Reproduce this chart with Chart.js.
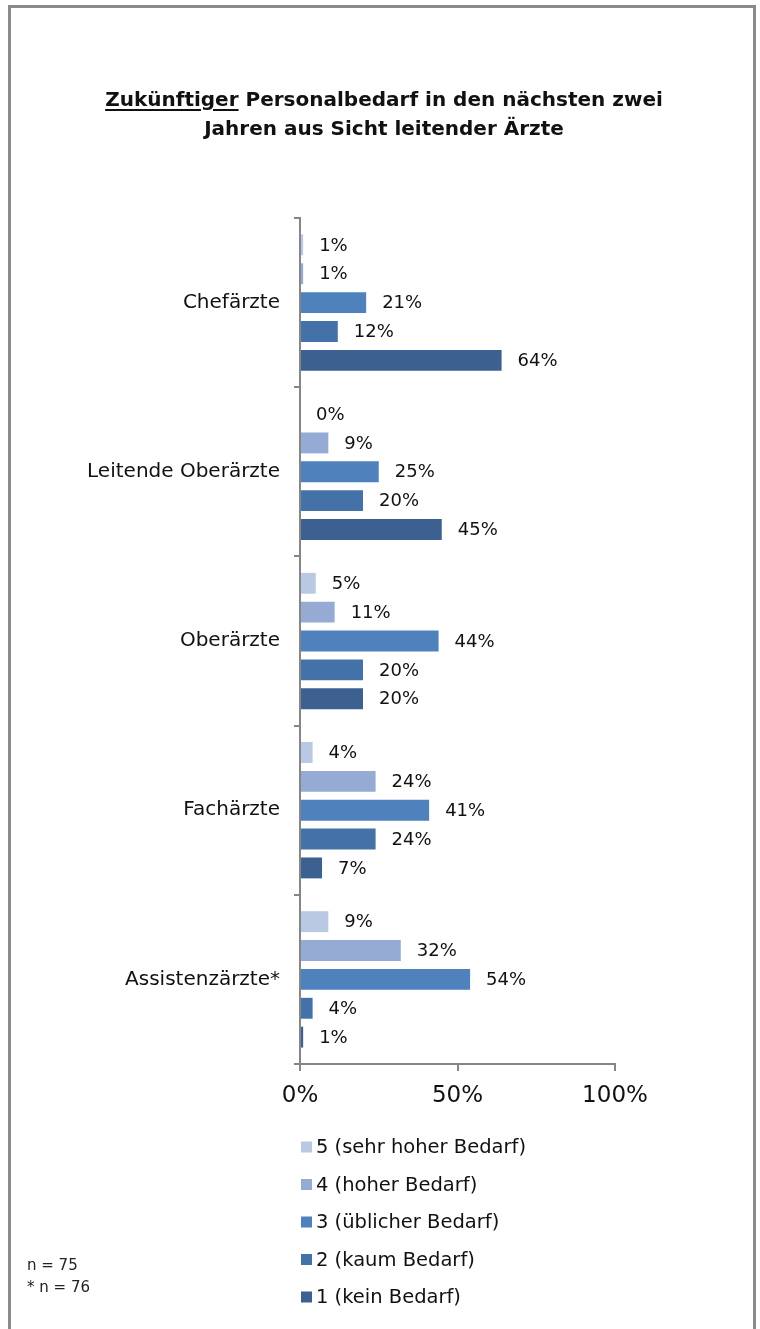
<!DOCTYPE html>
<html>
<head>
<meta charset="utf-8">
<script src="https://cdn.jsdelivr.net/npm/chart.js@4/dist/chart.umd.min.js"></script>
<style>
  html, body { margin:0; padding:0; background:#fff; }
  body { width:760px; height:1329px; position:relative; overflow:hidden; font-family:"DejaVu Sans", sans-serif; }
  #frame { position:absolute; left:8px; top:5px; width:748px; height:1400px; box-sizing:border-box; border:3px solid #8a8a8a; }
  #title { position:absolute; left:0; width:768px; top:85px; text-align:center; font-weight:bold; font-size:20px; line-height:29px; color:#111; }
  #title u { text-decoration-thickness:2px; text-underline-offset:3px; }
  #notes { position:absolute; left:27px; top:1254px; font-size:15px; line-height:22px; color:#222; }
  #wrap { position:absolute; left:0; top:0; width:760px; height:1329px; }
</style>
</head>
<body>
<div id="frame"></div>
<div id="wrap"><canvas id="c" width="760" height="1329"></canvas></div>
<div id="title"><u>Zukünftiger</u> Personalbedarf in den nächsten zwei<br>Jahren aus Sicht leitender Ärzte</div>
<div id="notes">n = 75<br>* n = 76</div>
<script>
const categories = ["Chefärzte", "Leitende Oberärzte", "Oberärzte", "Fachärzte", "Assistenzärzte*"];
const seriesNames = ["5 (sehr hoher Bedarf)", "4 (hoher Bedarf)", "3 (üblicher Bedarf)", "2 (kaum Bedarf)", "1 (kein Bedarf)"];
const s5 = [1, 0, 5, 4, 9];
const s4 = [1, 9, 11, 24, 32];
const s3 = [21, 25, 44, 41, 54];
const s2 = [12, 20, 20, 24, 4];
const s1 = [64, 45, 20, 7, 1];
const xTicks = [0, 50, 100];
const colors = ["#b9c9e3", "#95abd3", "#4f81bd", "#4472a8", "#3c6090"];

const seriesValues = [s5, s4, s3, s2, s1];
const FONT = "'DejaVu Sans', sans-serif";

const valueLabels = {
  id: 'valueLabels',
  afterDatasetsDraw(chart) {
    const ctx = chart.ctx;
    ctx.save();
    ctx.font = "18px " + FONT;
    ctx.fillStyle = "#111";
    ctx.textAlign = "left";
    ctx.textBaseline = "middle";
    chart.data.datasets.forEach((ds, di) => {
      const meta = chart.getDatasetMeta(di);
      meta.data.forEach((el, i) => {
        ctx.fillText(ds.data[i] + "%", el.x + 16, el.y + 1);
      });
    });
    ctx.restore();
  }
};

const customLegend = {
  id: 'customLegend',
  afterDraw(chart) {
    const ctx = chart.ctx;
    ctx.save();
    ctx.font = "19.5px " + FONT;
    ctx.textAlign = "left";
    ctx.textBaseline = "middle";
    const x0 = chart.chartArea.left;
    const y0 = chart.chartArea.bottom + 83;
    chart.data.datasets.forEach((ds, i) => {
      const y = y0 + i * 37.5;
      ctx.fillStyle = ds.backgroundColor;
      ctx.fillRect(x0 + 1, y - 5.5, 11, 11);
      ctx.fillStyle = "#111";
      ctx.fillText(ds.label, x0 + 16, y + 1);
    });
    ctx.restore();
  }
};

new Chart(document.getElementById('c'), {
  type: 'bar',
  data: {
    labels: categories,
    datasets: seriesNames.map((n, i) => ({
      label: n,
      data: seriesValues[i],
      backgroundColor: colors[i],
      borderWidth: 0,
      categoryPercentage: 0.853,
      barPercentage: 0.724
    }))
  },
  options: {
    indexAxis: 'y',
    responsive: false,
    animation: false,
    events: [],
    layout: { padding: { left: 10, right: 145, top: 218, bottom: 215 } },
    plugins: { legend: { display: false }, title: { display: false }, tooltip: { enabled: false } },
    scales: {
      x: {
        min: 0, max: 100,
        afterBuildTicks(scale) { scale.ticks = xTicks.map(v => ({ value: v })); },
        afterFit(scale) { scale.height = 50; },
        border: { display: true, color: "#868686", width: 2 },
        grid: { drawOnChartArea: false, drawTicks: true, tickLength: 7, color: "#868686", lineWidth: 2 },
        ticks: { callback: v => v + "%", color: "#111", font: { family: FONT, size: 23 }, padding: 11 }
      },
      y: {
        afterFit(scale) { scale.width = 290; },
        border: { display: true, color: "#868686", width: 2 },
        grid: { offset: true, drawOnChartArea: false, drawTicks: true, tickLength: 6, color: "#868686", lineWidth: 2 },
        ticks: { color: "#111", font: { family: FONT, size: 20 }, padding: 14 }
      }
    }
  },
  plugins: [valueLabels, customLegend]
});
</script>
</body>
</html>
